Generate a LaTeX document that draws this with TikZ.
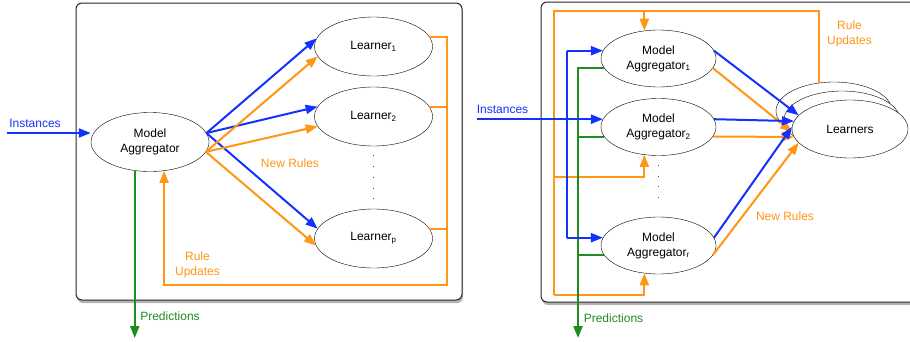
\documentclass[tikz,border=0pt]{standalone}
\usepackage{fontspec}
\setmainfont{Liberation Sans}
\usetikzlibrary{shapes.geometric,arrows.meta,shadows}
\definecolor{instblue}{RGB}{20,50,255}
\definecolor{ruleorange}{RGB}{255,150,20}
\definecolor{predgreen}{RGB}{30,140,30}
\tikzset{
	box/.style={draw=black!85,line width=1pt,rounded corners=6pt,fill=white,
		drop shadow={shadow xshift=1pt,shadow yshift=-3pt,opacity=0.6}},
	unit/.style={ellipse,draw,fill=white,minimum width=118pt,minimum height=59pt,inner sep=0pt,align=center},
	flow/.style={line width=2pt,-{Triangle[length=12pt,width=9pt]}},
	link/.style={line width=2pt},
	dotline/.style={black!70,line width=0.8pt,dash pattern=on 0.8pt off 10pt},
	tag/.style={inner sep=0pt,align=center}
}

\begin{document}
\begin{tikzpicture}[x=1pt,y=-1pt,font=\fontsize{12}{15}\selectfont]
				\useasboundingbox (0,0) rectangle (910,341);
				\draw[box] (76,3) rectangle (462,300);
				\draw[box] (541,2) rectangle (950,302);

				\node[unit] (ma) at (150,142) {Model\\Aggregator};
				\node[unit] (l1) at (373.5,46.5) {Learner\textsubscript{1}};
				\node[unit] (l2) at (373.5,116.5) {Learner\textsubscript{2}};
				\node[unit] (lp) at (373.5,238.5) {Learner\textsubscript{p}};
				\draw[dotline,shorten <=9pt,shorten >=8pt] (l2.south) -- (lp.north);

				\coordinate (src) at (7,133);
				\coordinate (out) at (135,338);
				\coordinate (fb) at (447,285);
				\draw[flow,instblue] (src) -- (src -| ma.west);
				\node[tag,text=instblue] (instlbl) at (35,123) {Instances};
				\draw[flow,predgreen] (ma.-118) -- (ma.-118 |- out);
				\node[tag,text=predgreen] (predlbl) at (170,316) {Predictions};
				\draw[flow,instblue] (ma.9) -- (l1.172);
				\draw[flow,instblue] (ma.9) -- (l2.170);
				\draw[flow,instblue] (ma.9) -- (lp.170);
				\draw[flow,ruleorange] (ma.-10) -- (l1.190);
				\draw[flow,ruleorange] (ma.-10) -- (l2.190);
				\draw[flow,ruleorange] (ma.-10) -- (lp.187);
				\node[tag,text=ruleorange] (newlbl) at (290,163) {New Rules};
				\draw[flow,ruleorange] (l1.10) -| (fb) -| (ma.-64);
				\draw[link,ruleorange] (l2.10) -- (l2.10 -| fb);
				\draw[link,ruleorange] (lp.10) -- (lp.10 -| fb);
				\node[tag,text=ruleorange] (updlbl) at (197.5,265) {Rule\\Updates};

				\node[unit,minimum width=115pt,minimum height=57pt] (m1) at (658.5,58.5) {Model\\Aggregator\textsubscript{1}};
				\node[unit,minimum width=115pt,minimum height=57pt] (m2) at (658.5,127) {Model\\Aggregator\textsubscript{2}};
				\node[unit,minimum width=115pt,minimum height=57pt] (mr) at (658.5,245.5) {Model\\Aggregator\textsubscript{r}};
				\draw[dotline,shorten <=9pt,shorten >=9pt] (m2.south) -- (mr.north);
				\node[unit,minimum width=116pt,minimum height=58pt] (lb2) at (834,111) {};
				\node[unit,minimum width=116pt,minimum height=58pt] (lb1) at (842,120) {};
				\node[unit,minimum width=116pt,minimum height=58pt] (lf) at (850,129) {Learners};

				\coordinate (src2) at (477,0);
				\coordinate (bx) at (567,0);
				\coordinate (gx) at (578,0);
				\coordinate (out2) at (578,338);
				\coordinate (otop) at (554,11);
				\coordinate (omid) at (554,177);
				\coordinate (obot) at (554,295);
				\draw[link,ruleorange] (lb2.118) |- (otop) -- (obot);
				\draw[flow,ruleorange] (m1.117 |- otop) -- (m1.117);
				\draw[flow,ruleorange] (omid) -| (m2.-117);
				\draw[flow,ruleorange] (obot) -| (mr.-117);
				\node[tag,text=ruleorange] (upd2lbl) at (849.5,34) {Rule\\Updates};

				\draw[flow,predgreen] (m1.190) -- (m1.190 -| gx) -- (out2);
				\draw[link,predgreen] (m2.190) -- (m2.190 -| gx);
				\draw[link,predgreen] (mr.190) -- (mr.190 -| gx);
				\node[tag,text=predgreen] (pred2lbl) at (613.5,318) {Predictions};

				\draw[link,instblue] (m1.172 -| bx) -- (mr.172 -| bx);
				\draw[flow,instblue] (m1.172 -| bx) -- (m1.172);
				\draw[flow,instblue] (mr.172 -| bx) -- (mr.172);
				\draw[flow,instblue] (m2.172 -| src2) -- (m2.172);
				\node[tag,text=instblue] (inst2lbl) at (502.5,109) {Instances};

				\draw[flow,instblue] (m1.8) -- (lf.165);
				\draw[flow,ruleorange] (m1.-10) -- (lf.183);
				\draw[flow,instblue] (m2.8) -- (lf.172);
				\draw[flow,ruleorange] (m2.-10) -- (lf.188);
				\draw[flow,instblue] (mr.8) -- (lf.178);
				\draw[flow,ruleorange] (mr.-10) -- (lf.195);
				\node[tag,text=ruleorange] (new2lbl) at (785,216) {New Rules};
			\end{tikzpicture}
\end{document}
